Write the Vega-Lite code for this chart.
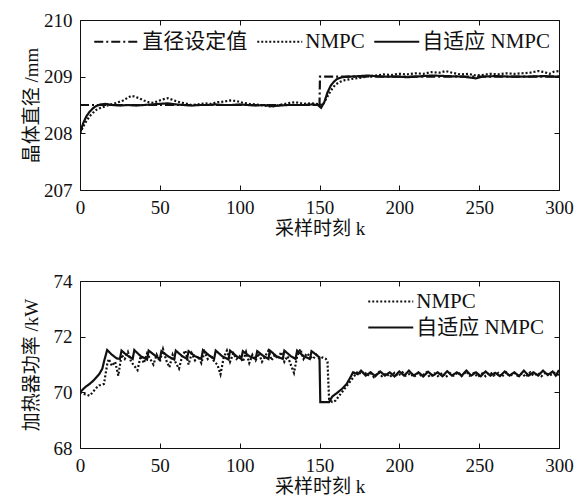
{
  "$schema": "https://vega.github.io/schema/vega-lite/v6.json",
  "padding": {"left": 22, "top": 11, "right": 0, "bottom": 5},
  "config": {
    "font": "Liberation Serif, Noto Sans CJK SC",
    "view": {"stroke": null},
    "axis": {
      "labelFontSize": 19, "titleFontSize": 19, "titleFontWeight": "normal",
      "labelFont": "Liberation Serif, Noto Sans CJK SC", "titleFont": "Liberation Serif, Noto Sans CJK SC",
      "labelColor": "#111", "titleColor": "#111", "domainColor": "#111", "tickColor": "#111",
      "tickSize": -5, "labelPadding": 13, "grid": false, "labelFlush": false, "labelOverlap": false
    },
    "axisLeft": {"titleX": -49, "titleBaseline": "middle", "titleAlign": "center"},
    "axisBottom": {"titlePadding": 2},
    "legend": {
      "labelFont": "Liberation Serif, Noto Sans CJK SC", "labelFontSize": 21, "labelColor": "#111",
      "symbolType": "M-2,0H2", "symbolSize": 506, "symbolStrokeWidth": 2, "symbolStrokeColor": "#111", "symbolFillColor": "transparent",
      "symbolOffset": 11.25, "labelOffset": 13
    }
  },
  "spacing": 34,
  "datasets": {
    "top": [
      {"k": 0, "y": 208.5, "s": "直径设定值"}, {"k": 150, "y": 208.5, "s": "直径设定值"}, {"k": 150.3, "y": 209, "s": "直径设定值"}, {"k": 300, "y": 209, "s": "直径设定值"},
      {"k": 0, "y": 208.0, "s": "自适应 NMPC"}, {"k": 2, "y": 208.18, "s": "自适应 NMPC"}, {"k": 4, "y": 208.3, "s": "自适应 NMPC"}, {"k": 6, "y": 208.38, "s": "自适应 NMPC"}, {"k": 8, "y": 208.44, "s": "自适应 NMPC"}, {"k": 10, "y": 208.48, "s": "自适应 NMPC"}, {"k": 13, "y": 208.51, "s": "自适应 NMPC"}, {"k": 16, "y": 208.52, "s": "自适应 NMPC"}, {"k": 20, "y": 208.5, "s": "自适应 NMPC"}, {"k": 25, "y": 208.49, "s": "自适应 NMPC"}, {"k": 30, "y": 208.5, "s": "自适应 NMPC"}, {"k": 35, "y": 208.49, "s": "自适应 NMPC"}, {"k": 40, "y": 208.5, "s": "自适应 NMPC"}, {"k": 45, "y": 208.51, "s": "自适应 NMPC"}, {"k": 50, "y": 208.52, "s": "自适应 NMPC"}, {"k": 55, "y": 208.53, "s": "自适应 NMPC"}, {"k": 60, "y": 208.51, "s": "自适应 NMPC"}, {"k": 65, "y": 208.5, "s": "自适应 NMPC"}, {"k": 70, "y": 208.49, "s": "自适应 NMPC"}, {"k": 75, "y": 208.5, "s": "自适应 NMPC"}, {"k": 80, "y": 208.5, "s": "自适应 NMPC"}, {"k": 85, "y": 208.51, "s": "自适应 NMPC"}, {"k": 90, "y": 208.5, "s": "自适应 NMPC"}, {"k": 95, "y": 208.5, "s": "自适应 NMPC"}, {"k": 100, "y": 208.51, "s": "自适应 NMPC"}, {"k": 105, "y": 208.5, "s": "自适应 NMPC"}, {"k": 110, "y": 208.49, "s": "自适应 NMPC"}, {"k": 115, "y": 208.5, "s": "自适应 NMPC"}, {"k": 120, "y": 208.48, "s": "自适应 NMPC"}, {"k": 125, "y": 208.49, "s": "自适应 NMPC"}, {"k": 130, "y": 208.5, "s": "自适应 NMPC"}, {"k": 135, "y": 208.5, "s": "自适应 NMPC"}, {"k": 140, "y": 208.5, "s": "自适应 NMPC"}, {"k": 145, "y": 208.51, "s": "自适应 NMPC"}, {"k": 149, "y": 208.5, "s": "自适应 NMPC"}, {"k": 151, "y": 208.45, "s": "自适应 NMPC"}, {"k": 153, "y": 208.55, "s": "自适应 NMPC"}, {"k": 155, "y": 208.72, "s": "自适应 NMPC"}, {"k": 157, "y": 208.84, "s": "自适应 NMPC"}, {"k": 159, "y": 208.91, "s": "自适应 NMPC"}, {"k": 161, "y": 208.96, "s": "自适应 NMPC"}, {"k": 164, "y": 208.99, "s": "自适应 NMPC"}, {"k": 168, "y": 209.0, "s": "自适应 NMPC"}, {"k": 175, "y": 209.01, "s": "自适应 NMPC"}, {"k": 180, "y": 209.02, "s": "自适应 NMPC"}, {"k": 185, "y": 209.01, "s": "自适应 NMPC"}, {"k": 190, "y": 209.0, "s": "自适应 NMPC"}, {"k": 200, "y": 209.0, "s": "自适应 NMPC"}, {"k": 205, "y": 208.99, "s": "自适应 NMPC"}, {"k": 210, "y": 209.0, "s": "自适应 NMPC"}, {"k": 220, "y": 209.02, "s": "自适应 NMPC"}, {"k": 230, "y": 209.01, "s": "自适应 NMPC"}, {"k": 240, "y": 209.0, "s": "自适应 NMPC"}, {"k": 248, "y": 208.97, "s": "自适应 NMPC"}, {"k": 252, "y": 209.0, "s": "自适应 NMPC"}, {"k": 260, "y": 209.01, "s": "自适应 NMPC"}, {"k": 270, "y": 209.0, "s": "自适应 NMPC"}, {"k": 280, "y": 209.0, "s": "自适应 NMPC"}, {"k": 290, "y": 209.01, "s": "自适应 NMPC"}, {"k": 300, "y": 209.0, "s": "自适应 NMPC"},
      {"k": 0, "y": 208.0, "s": "NMPC"}, {"k": 2, "y": 208.12, "s": "NMPC"}, {"k": 4, "y": 208.22, "s": "NMPC"}, {"k": 6, "y": 208.3, "s": "NMPC"}, {"k": 8, "y": 208.36, "s": "NMPC"}, {"k": 10, "y": 208.41, "s": "NMPC"}, {"k": 12, "y": 208.44, "s": "NMPC"}, {"k": 15, "y": 208.47, "s": "NMPC"}, {"k": 18, "y": 208.5, "s": "NMPC"}, {"k": 21, "y": 208.52, "s": "NMPC"}, {"k": 24, "y": 208.55, "s": "NMPC"}, {"k": 27, "y": 208.58, "s": "NMPC"}, {"k": 30, "y": 208.63, "s": "NMPC"}, {"k": 32, "y": 208.66, "s": "NMPC"}, {"k": 34, "y": 208.65, "s": "NMPC"}, {"k": 37, "y": 208.62, "s": "NMPC"}, {"k": 40, "y": 208.58, "s": "NMPC"}, {"k": 43, "y": 208.55, "s": "NMPC"}, {"k": 46, "y": 208.54, "s": "NMPC"}, {"k": 49, "y": 208.57, "s": "NMPC"}, {"k": 52, "y": 208.6, "s": "NMPC"}, {"k": 55, "y": 208.62, "s": "NMPC"}, {"k": 58, "y": 208.59, "s": "NMPC"}, {"k": 61, "y": 208.56, "s": "NMPC"}, {"k": 64, "y": 208.54, "s": "NMPC"}, {"k": 67, "y": 208.52, "s": "NMPC"}, {"k": 70, "y": 208.5, "s": "NMPC"}, {"k": 74, "y": 208.51, "s": "NMPC"}, {"k": 78, "y": 208.53, "s": "NMPC"}, {"k": 82, "y": 208.52, "s": "NMPC"}, {"k": 86, "y": 208.55, "s": "NMPC"}, {"k": 90, "y": 208.56, "s": "NMPC"}, {"k": 94, "y": 208.58, "s": "NMPC"}, {"k": 98, "y": 208.57, "s": "NMPC"}, {"k": 102, "y": 208.54, "s": "NMPC"}, {"k": 106, "y": 208.52, "s": "NMPC"}, {"k": 110, "y": 208.51, "s": "NMPC"}, {"k": 115, "y": 208.49, "s": "NMPC"}, {"k": 120, "y": 208.47, "s": "NMPC"}, {"k": 125, "y": 208.5, "s": "NMPC"}, {"k": 130, "y": 208.53, "s": "NMPC"}, {"k": 135, "y": 208.55, "s": "NMPC"}, {"k": 140, "y": 208.52, "s": "NMPC"}, {"k": 145, "y": 208.53, "s": "NMPC"}, {"k": 150, "y": 208.51, "s": "NMPC"}, {"k": 152, "y": 208.5, "s": "NMPC"}, {"k": 154, "y": 208.6, "s": "NMPC"}, {"k": 156, "y": 208.7, "s": "NMPC"}, {"k": 158, "y": 208.79, "s": "NMPC"}, {"k": 160, "y": 208.86, "s": "NMPC"}, {"k": 163, "y": 208.91, "s": "NMPC"}, {"k": 166, "y": 208.94, "s": "NMPC"}, {"k": 170, "y": 208.96, "s": "NMPC"}, {"k": 175, "y": 208.98, "s": "NMPC"}, {"k": 180, "y": 209.0, "s": "NMPC"}, {"k": 185, "y": 209.02, "s": "NMPC"}, {"k": 190, "y": 209.04, "s": "NMPC"}, {"k": 195, "y": 209.03, "s": "NMPC"}, {"k": 200, "y": 209.05, "s": "NMPC"}, {"k": 205, "y": 209.04, "s": "NMPC"}, {"k": 210, "y": 209.06, "s": "NMPC"}, {"k": 215, "y": 209.05, "s": "NMPC"}, {"k": 220, "y": 209.08, "s": "NMPC"}, {"k": 225, "y": 209.07, "s": "NMPC"}, {"k": 229, "y": 209.1, "s": "NMPC"}, {"k": 233, "y": 209.07, "s": "NMPC"}, {"k": 238, "y": 209.04, "s": "NMPC"}, {"k": 243, "y": 209.05, "s": "NMPC"}, {"k": 248, "y": 209.02, "s": "NMPC"}, {"k": 252, "y": 209.03, "s": "NMPC"}, {"k": 257, "y": 209.05, "s": "NMPC"}, {"k": 262, "y": 209.04, "s": "NMPC"}, {"k": 267, "y": 209.06, "s": "NMPC"}, {"k": 272, "y": 209.05, "s": "NMPC"}, {"k": 277, "y": 209.06, "s": "NMPC"}, {"k": 282, "y": 209.07, "s": "NMPC"}, {"k": 287, "y": 209.1, "s": "NMPC"}, {"k": 291, "y": 209.08, "s": "NMPC"}, {"k": 294, "y": 209.05, "s": "NMPC"}, {"k": 297, "y": 209.09, "s": "NMPC"}, {"k": 300, "y": 209.1, "s": "NMPC"}
    ],
    "bottom": [
      {"k": 0, "y": 70.0, "s": "自适应 NMPC"}, {"k": 2, "y": 70.12, "s": "自适应 NMPC"}, {"k": 4, "y": 70.22, "s": "自适应 NMPC"}, {"k": 6, "y": 70.3, "s": "自适应 NMPC"}, {"k": 8, "y": 70.4, "s": "自适应 NMPC"}, {"k": 10, "y": 70.52, "s": "自适应 NMPC"}, {"k": 12, "y": 70.65, "s": "自适应 NMPC"}, {"k": 14, "y": 70.85, "s": "自适应 NMPC"}, {"k": 15, "y": 71.1, "s": "自适应 NMPC"}, {"k": 17, "y": 71.52, "s": "自适应 NMPC"}, {"k": 20, "y": 71.35, "s": "自适应 NMPC"}, {"k": 23, "y": 71.22, "s": "自适应 NMPC"}, {"k": 25, "y": 71.2, "s": "自适应 NMPC"}, {"k": 26, "y": 71.5, "s": "自适应 NMPC"}, {"k": 29, "y": 71.35, "s": "自适应 NMPC"}, {"k": 33, "y": 71.2, "s": "自适应 NMPC"}, {"k": 34, "y": 71.52, "s": "自适应 NMPC"}, {"k": 38, "y": 71.3, "s": "自适应 NMPC"}, {"k": 42, "y": 71.18, "s": "自适应 NMPC"}, {"k": 43, "y": 71.5, "s": "自适应 NMPC"}, {"k": 47, "y": 71.32, "s": "自适应 NMPC"}, {"k": 50, "y": 71.2, "s": "自适应 NMPC"}, {"k": 51, "y": 71.48, "s": "自适应 NMPC"}, {"k": 55, "y": 71.3, "s": "自适应 NMPC"}, {"k": 59, "y": 71.18, "s": "自适应 NMPC"}, {"k": 60, "y": 71.5, "s": "自适应 NMPC"}, {"k": 64, "y": 71.3, "s": "自适应 NMPC"}, {"k": 67, "y": 71.2, "s": "自适应 NMPC"}, {"k": 68, "y": 71.48, "s": "自适应 NMPC"}, {"k": 72, "y": 71.3, "s": "自适应 NMPC"}, {"k": 76, "y": 71.2, "s": "自适应 NMPC"}, {"k": 77, "y": 71.52, "s": "自适应 NMPC"}, {"k": 81, "y": 71.32, "s": "自适应 NMPC"}, {"k": 84, "y": 71.2, "s": "自适应 NMPC"}, {"k": 85, "y": 71.5, "s": "自适应 NMPC"}, {"k": 89, "y": 71.3, "s": "自适应 NMPC"}, {"k": 93, "y": 71.18, "s": "自适应 NMPC"}, {"k": 94, "y": 71.5, "s": "自适应 NMPC"}, {"k": 98, "y": 71.3, "s": "自适应 NMPC"}, {"k": 101, "y": 71.2, "s": "自适应 NMPC"}, {"k": 102, "y": 71.48, "s": "自适应 NMPC"}, {"k": 106, "y": 71.3, "s": "自适应 NMPC"}, {"k": 110, "y": 71.2, "s": "自适应 NMPC"}, {"k": 111, "y": 71.48, "s": "自适应 NMPC"}, {"k": 115, "y": 71.3, "s": "自适应 NMPC"}, {"k": 118, "y": 71.2, "s": "自适应 NMPC"}, {"k": 119, "y": 71.5, "s": "自适应 NMPC"}, {"k": 123, "y": 71.3, "s": "自适应 NMPC"}, {"k": 127, "y": 71.2, "s": "自适应 NMPC"}, {"k": 128, "y": 71.5, "s": "自适应 NMPC"}, {"k": 132, "y": 71.3, "s": "自适应 NMPC"}, {"k": 135, "y": 71.2, "s": "自适应 NMPC"}, {"k": 136, "y": 71.5, "s": "自适应 NMPC"}, {"k": 140, "y": 71.3, "s": "自适应 NMPC"}, {"k": 144, "y": 71.2, "s": "自适应 NMPC"}, {"k": 145, "y": 71.48, "s": "自适应 NMPC"}, {"k": 148, "y": 71.35, "s": "自适应 NMPC"}, {"k": 150, "y": 71.25, "s": "自适应 NMPC"}, {"k": 150.5, "y": 69.65, "s": "自适应 NMPC"}, {"k": 156, "y": 69.65, "s": "自适应 NMPC"}, {"k": 158, "y": 69.85, "s": "自适应 NMPC"}, {"k": 161, "y": 69.98, "s": "自适应 NMPC"}, {"k": 164, "y": 70.12, "s": "自适应 NMPC"}, {"k": 167, "y": 70.3, "s": "自适应 NMPC"}, {"k": 169, "y": 70.5, "s": "自适应 NMPC"}, {"k": 171, "y": 70.72, "s": "自适应 NMPC"}, {"k": 174, "y": 70.65, "s": "自适应 NMPC"}, {"k": 176, "y": 70.78, "s": "自适应 NMPC"}, {"k": 179, "y": 70.6, "s": "自适应 NMPC"}, {"k": 182, "y": 70.72, "s": "自适应 NMPC"}, {"k": 185, "y": 70.58, "s": "自适应 NMPC"}, {"k": 188, "y": 70.75, "s": "自适应 NMPC"}, {"k": 191, "y": 70.6, "s": "自适应 NMPC"}, {"k": 194, "y": 70.72, "s": "自适应 NMPC"}, {"k": 197, "y": 70.57, "s": "自适应 NMPC"}, {"k": 200, "y": 70.75, "s": "自适应 NMPC"}, {"k": 203, "y": 70.6, "s": "自适应 NMPC"}, {"k": 206, "y": 70.78, "s": "自适应 NMPC"}, {"k": 209, "y": 70.6, "s": "自适应 NMPC"}, {"k": 212, "y": 70.72, "s": "自适应 NMPC"}, {"k": 215, "y": 70.57, "s": "自适应 NMPC"}, {"k": 218, "y": 70.74, "s": "自适应 NMPC"}, {"k": 221, "y": 70.6, "s": "自适应 NMPC"}, {"k": 224, "y": 70.72, "s": "自适应 NMPC"}, {"k": 227, "y": 70.58, "s": "自适应 NMPC"}, {"k": 230, "y": 70.76, "s": "自适应 NMPC"}, {"k": 233, "y": 70.6, "s": "自适应 NMPC"}, {"k": 236, "y": 70.72, "s": "自适应 NMPC"}, {"k": 239, "y": 70.6, "s": "自适应 NMPC"}, {"k": 242, "y": 70.78, "s": "自适应 NMPC"}, {"k": 245, "y": 70.6, "s": "自适应 NMPC"}, {"k": 248, "y": 70.72, "s": "自适应 NMPC"}, {"k": 251, "y": 70.58, "s": "自适应 NMPC"}, {"k": 254, "y": 70.75, "s": "自适应 NMPC"}, {"k": 257, "y": 70.6, "s": "自适应 NMPC"}, {"k": 260, "y": 70.7, "s": "自适应 NMPC"}, {"k": 263, "y": 70.58, "s": "自适应 NMPC"}, {"k": 266, "y": 70.75, "s": "自适应 NMPC"}, {"k": 269, "y": 70.6, "s": "自适应 NMPC"}, {"k": 272, "y": 70.72, "s": "自适应 NMPC"}, {"k": 275, "y": 70.58, "s": "自适应 NMPC"}, {"k": 278, "y": 70.78, "s": "自适应 NMPC"}, {"k": 281, "y": 70.6, "s": "自适应 NMPC"}, {"k": 284, "y": 70.72, "s": "自适应 NMPC"}, {"k": 287, "y": 70.6, "s": "自适应 NMPC"}, {"k": 290, "y": 70.78, "s": "自适应 NMPC"}, {"k": 293, "y": 70.62, "s": "自适应 NMPC"}, {"k": 296, "y": 70.75, "s": "自适应 NMPC"}, {"k": 298, "y": 70.6, "s": "自适应 NMPC"}, {"k": 300, "y": 70.8, "s": "自适应 NMPC"},
      {"k": 0, "y": 70.0, "s": "NMPC"}, {"k": 2, "y": 69.95, "s": "NMPC"}, {"k": 4, "y": 69.92, "s": "NMPC"}, {"k": 6, "y": 69.88, "s": "NMPC"}, {"k": 8, "y": 70.0, "s": "NMPC"}, {"k": 10, "y": 70.15, "s": "NMPC"}, {"k": 12, "y": 70.25, "s": "NMPC"}, {"k": 14, "y": 70.28, "s": "NMPC"}, {"k": 15, "y": 70.3, "s": "NMPC"}, {"k": 17, "y": 71.0, "s": "NMPC"}, {"k": 18, "y": 71.2, "s": "NMPC"}, {"k": 20, "y": 70.95, "s": "NMPC"}, {"k": 22, "y": 71.1, "s": "NMPC"}, {"k": 24, "y": 70.6, "s": "NMPC"}, {"k": 26, "y": 71.35, "s": "NMPC"}, {"k": 28, "y": 71.2, "s": "NMPC"}, {"k": 30, "y": 71.45, "s": "NMPC"}, {"k": 32, "y": 71.1, "s": "NMPC"}, {"k": 34, "y": 70.95, "s": "NMPC"}, {"k": 36, "y": 70.8, "s": "NMPC"}, {"k": 38, "y": 71.3, "s": "NMPC"}, {"k": 40, "y": 71.05, "s": "NMPC"}, {"k": 42, "y": 71.4, "s": "NMPC"}, {"k": 44, "y": 71.2, "s": "NMPC"}, {"k": 46, "y": 71.0, "s": "NMPC"}, {"k": 48, "y": 71.35, "s": "NMPC"}, {"k": 50, "y": 71.1, "s": "NMPC"}, {"k": 52, "y": 71.55, "s": "NMPC"}, {"k": 54, "y": 71.15, "s": "NMPC"}, {"k": 56, "y": 70.9, "s": "NMPC"}, {"k": 58, "y": 71.35, "s": "NMPC"}, {"k": 60, "y": 71.05, "s": "NMPC"}, {"k": 62, "y": 70.85, "s": "NMPC"}, {"k": 64, "y": 71.3, "s": "NMPC"}, {"k": 66, "y": 71.5, "s": "NMPC"}, {"k": 68, "y": 71.0, "s": "NMPC"}, {"k": 70, "y": 71.4, "s": "NMPC"}, {"k": 72, "y": 71.15, "s": "NMPC"}, {"k": 74, "y": 71.3, "s": "NMPC"}, {"k": 76, "y": 71.05, "s": "NMPC"}, {"k": 78, "y": 71.45, "s": "NMPC"}, {"k": 80, "y": 71.2, "s": "NMPC"}, {"k": 82, "y": 71.35, "s": "NMPC"}, {"k": 84, "y": 71.1, "s": "NMPC"}, {"k": 86, "y": 71.0, "s": "NMPC"}, {"k": 88, "y": 70.65, "s": "NMPC"}, {"k": 90, "y": 71.25, "s": "NMPC"}, {"k": 92, "y": 71.5, "s": "NMPC"}, {"k": 94, "y": 71.1, "s": "NMPC"}, {"k": 96, "y": 71.4, "s": "NMPC"}, {"k": 98, "y": 71.2, "s": "NMPC"}, {"k": 100, "y": 71.3, "s": "NMPC"}, {"k": 102, "y": 71.1, "s": "NMPC"}, {"k": 104, "y": 71.45, "s": "NMPC"}, {"k": 106, "y": 71.05, "s": "NMPC"}, {"k": 108, "y": 71.35, "s": "NMPC"}, {"k": 110, "y": 71.15, "s": "NMPC"}, {"k": 112, "y": 71.4, "s": "NMPC"}, {"k": 114, "y": 71.1, "s": "NMPC"}, {"k": 116, "y": 71.3, "s": "NMPC"}, {"k": 118, "y": 71.5, "s": "NMPC"}, {"k": 120, "y": 71.15, "s": "NMPC"}, {"k": 122, "y": 71.35, "s": "NMPC"}, {"k": 124, "y": 71.2, "s": "NMPC"}, {"k": 126, "y": 71.45, "s": "NMPC"}, {"k": 128, "y": 71.1, "s": "NMPC"}, {"k": 130, "y": 71.3, "s": "NMPC"}, {"k": 132, "y": 71.0, "s": "NMPC"}, {"k": 134, "y": 70.7, "s": "NMPC"}, {"k": 136, "y": 71.3, "s": "NMPC"}, {"k": 138, "y": 71.55, "s": "NMPC"}, {"k": 140, "y": 71.2, "s": "NMPC"}, {"k": 142, "y": 71.4, "s": "NMPC"}, {"k": 144, "y": 71.3, "s": "NMPC"}, {"k": 146, "y": 71.2, "s": "NMPC"}, {"k": 148, "y": 71.35, "s": "NMPC"}, {"k": 150, "y": 71.2, "s": "NMPC"}, {"k": 152, "y": 71.25, "s": "NMPC"}, {"k": 154, "y": 71.2, "s": "NMPC"}, {"k": 155, "y": 71.1, "s": "NMPC"}, {"k": 156, "y": 69.75, "s": "NMPC"}, {"k": 158, "y": 69.65, "s": "NMPC"}, {"k": 160, "y": 69.7, "s": "NMPC"}, {"k": 162, "y": 69.85, "s": "NMPC"}, {"k": 164, "y": 70.0, "s": "NMPC"}, {"k": 166, "y": 70.15, "s": "NMPC"}, {"k": 168, "y": 70.3, "s": "NMPC"}, {"k": 170, "y": 70.45, "s": "NMPC"}, {"k": 172, "y": 70.6, "s": "NMPC"}, {"k": 174, "y": 70.75, "s": "NMPC"}, {"k": 176, "y": 70.65, "s": "NMPC"}, {"k": 178, "y": 70.75, "s": "NMPC"}, {"k": 180, "y": 70.6, "s": "NMPC"}, {"k": 182, "y": 70.7, "s": "NMPC"}, {"k": 184, "y": 70.55, "s": "NMPC"}, {"k": 187, "y": 70.72, "s": "NMPC"}, {"k": 189, "y": 70.58, "s": "NMPC"}, {"k": 192, "y": 70.68, "s": "NMPC"}, {"k": 194, "y": 70.55, "s": "NMPC"}, {"k": 197, "y": 70.7, "s": "NMPC"}, {"k": 199, "y": 70.58, "s": "NMPC"}, {"k": 202, "y": 70.72, "s": "NMPC"}, {"k": 204, "y": 70.6, "s": "NMPC"}, {"k": 207, "y": 70.68, "s": "NMPC"}, {"k": 209, "y": 70.55, "s": "NMPC"}, {"k": 212, "y": 70.7, "s": "NMPC"}, {"k": 214, "y": 70.58, "s": "NMPC"}, {"k": 217, "y": 70.72, "s": "NMPC"}, {"k": 219, "y": 70.55, "s": "NMPC"}, {"k": 222, "y": 70.68, "s": "NMPC"}, {"k": 224, "y": 70.58, "s": "NMPC"}, {"k": 227, "y": 70.7, "s": "NMPC"}, {"k": 229, "y": 70.55, "s": "NMPC"}, {"k": 232, "y": 70.68, "s": "NMPC"}, {"k": 234, "y": 70.6, "s": "NMPC"}, {"k": 237, "y": 70.72, "s": "NMPC"}, {"k": 239, "y": 70.58, "s": "NMPC"}, {"k": 242, "y": 70.75, "s": "NMPC"}, {"k": 244, "y": 70.6, "s": "NMPC"}, {"k": 247, "y": 70.7, "s": "NMPC"}, {"k": 249, "y": 70.55, "s": "NMPC"}, {"k": 252, "y": 70.68, "s": "NMPC"}, {"k": 254, "y": 70.58, "s": "NMPC"}, {"k": 257, "y": 70.72, "s": "NMPC"}, {"k": 259, "y": 70.6, "s": "NMPC"}, {"k": 262, "y": 70.7, "s": "NMPC"}, {"k": 264, "y": 70.55, "s": "NMPC"}, {"k": 267, "y": 70.72, "s": "NMPC"}, {"k": 269, "y": 70.58, "s": "NMPC"}, {"k": 272, "y": 70.7, "s": "NMPC"}, {"k": 274, "y": 70.6, "s": "NMPC"}, {"k": 277, "y": 70.68, "s": "NMPC"}, {"k": 279, "y": 70.55, "s": "NMPC"}, {"k": 282, "y": 70.72, "s": "NMPC"}, {"k": 284, "y": 70.6, "s": "NMPC"}, {"k": 287, "y": 70.7, "s": "NMPC"}, {"k": 289, "y": 70.58, "s": "NMPC"}, {"k": 292, "y": 70.72, "s": "NMPC"}, {"k": 294, "y": 70.6, "s": "NMPC"}, {"k": 297, "y": 70.7, "s": "NMPC"}, {"k": 300, "y": 70.62, "s": "NMPC"}
    ]
  },
  "vconcat": [
    {
      "width": 479, "height": 170,
      "data": {"name": "top"},
      "layer": [
        {
          "mark": {"type": "line", "strokeWidth": 2.2, "color": "#111", "clip": true},
          "encoding": {
            "x": {"field": "k", "type": "quantitative", "scale": {"domain": [0, 300], "nice": false}, "axis": {"values": [0, 50, 100, 150, 200, 250, 300], "title": "采样时刻 k"}},
            "y": {"field": "y", "type": "quantitative", "scale": {"domain": [207, 210], "nice": false, "zero": false}, "axis": {"values": [207, 208, 209, 210], "title": "晶体直径 /mm"}},
            "strokeDash": {"field": "s", "type": "nominal", "scale": {"domain": ["直径设定值", "NMPC", "自适应 NMPC"], "range": [[9, 3, 2, 3], [2, 2], [1, 0]]},
              "legend": {"title": null, "orient": "none", "legendX": 13, "legendY": 9, "direction": "horizontal", "columnPadding": 5}}
          }
        },
        {
          "mark": {"type": "point", "opacity": 0},
          "encoding": {
            "x": {"field": "k", "type": "quantitative", "axis": {"orient": "top", "values": [0, 50, 100, 150, 200, 250, 300], "labels": false, "title": null}},
            "y": {"field": "y", "type": "quantitative", "axis": {"orient": "right", "values": [207, 208, 209, 210], "labels": false, "title": null}}
          }
        }
      ],
      "resolve": {"axis": {"x": "independent", "y": "independent"}}
    },
    {
      "width": 479, "height": 167,
      "data": {"name": "bottom"},
      "layer": [
        {
          "mark": {"type": "line", "strokeWidth": 2.2, "color": "#111", "clip": true},
          "encoding": {
            "x": {"field": "k", "type": "quantitative", "scale": {"domain": [0, 300], "nice": false}, "axis": {"values": [0, 50, 100, 150, 200, 250, 300], "title": "采样时刻 k"}},
            "y": {"field": "y", "type": "quantitative", "scale": {"domain": [68, 74], "nice": false, "zero": false}, "axis": {"values": [68, 70, 72, 74], "title": "加热器功率 /kW"}},
            "strokeDash": {"field": "s", "type": "nominal", "scale": {"domain": ["NMPC", "自适应 NMPC"], "range": [[2, 2], [1, 0]]},
              "legend": {"title": null, "orient": "none", "legendX": 287, "legendY": 8, "direction": "vertical", "rowPadding": 3}}
          }
        },
        {
          "mark": {"type": "point", "opacity": 0},
          "encoding": {
            "x": {"field": "k", "type": "quantitative", "axis": {"orient": "top", "values": [0, 50, 100, 150, 200, 250, 300], "labels": false, "title": null}},
            "y": {"field": "y", "type": "quantitative", "axis": {"orient": "right", "values": [68, 70, 72, 74], "labels": false, "title": null}}
          }
        }
      ],
      "resolve": {"axis": {"x": "independent", "y": "independent"}}
    }
  ],
  "resolve": {"scale": {"strokeDash": "independent"}, "legend": {"strokeDash": "independent"}}
}
